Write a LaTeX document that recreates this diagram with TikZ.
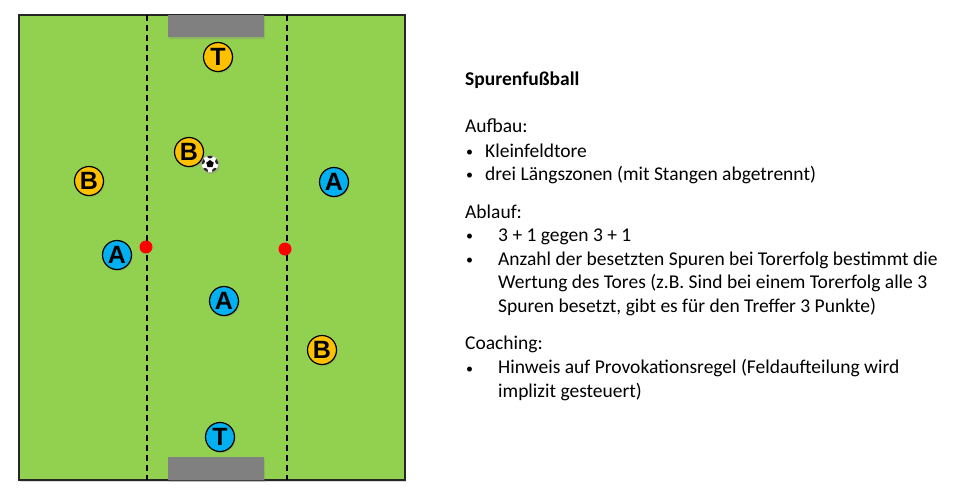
\documentclass[tikz,border=0pt]{standalone}
\usepackage{fontspec}
\setmainfont{Carlito}
\newfontfamily\letterfont{Liberation Sans}
\usetikzlibrary{shadows,shapes.geometric}
\definecolor{pitch}{HTML}{92D050}
\definecolor{teamblue}{HTML}{00B0F0}
\definecolor{teamyellow}{HTML}{FFC000}
\definecolor{goalgray}{HTML}{808080}
\definecolor{border}{HTML}{262626}
\tikzset{
    softshadow/.style={drop shadow={shadow xshift=1pt,shadow yshift=-1.5pt,opacity=0.3}},
    player/.style={circle,draw=black,line width=1.2pt,minimum size=29pt,inner sep=0pt,
        font=\letterfont\fontsize{25}{25}\selectfont\bfseries,softshadow},
    teama/.style={player,fill=teamblue},
    teamb/.style={player,fill=teamyellow},
    pole/.style={circle,fill=red,minimum size=13pt,inner sep=0pt},
    goal/.style={fill=goalgray,softshadow},
    zone/.style={draw=black,line width=1.3pt,dash pattern=on 6pt off 4pt},
    ballstyle/.style={circle,draw=gray!70,fill=white,minimum size=17pt,inner sep=0pt,softshadow,
        path picture={
            \foreach \a in {18,90,162,234,306}
                \fill[black!85] (path picture bounding box.center) ++(\a:8.5pt) circle (3pt);
        }},
    patch/.style={regular polygon,regular polygon sides=5,fill=black,minimum size=8pt,inner sep=0pt},
    txt/.style={anchor=base west,inner sep=0pt,align=left,
        font=\fontsize{19.5}{23.5}\selectfont},
    heading/.style={txt,font=\fontsize{19.5}{23.5}\selectfont\bfseries},
    bullet/.style={txt,font=\fontsize{14}{14}\selectfont},
}

\begin{document}
\begin{tikzpicture}[x=1pt,y=-1pt]
\useasboundingbox (0,0) rectangle (958,499);
% field
\filldraw[fill=pitch,draw=border,line width=1.5pt,softshadow] (19,15) rectangle (405,480);
\coordinate (z1top) at (147,15);
\coordinate (z1bot) at (147,480);
\coordinate (z2top) at (287,15);
\coordinate (z2bot) at (287,480);
\draw[zone] (z1top) -- (z1bot);
\draw[zone] (z2top) -- (z2bot);
\fill[goal] (168,15) rectangle (264,37);
\fill[goal] (168,457) rectangle (264,480);
% poles
\node[pole] (pole1) at (146,247) {};
\node[pole] (pole2) at (285,249) {};
% players
\node[teamb] (tb) at (218,57) {T};
\node[teamb] (b1) at (189,152) {B};
\node[teamb] (b2) at (89,181) {B};
\node[teamb] (b3) at (322,350) {B};
\node[teama] (a1) at (334,182) {A};
\node[teama] (a2) at (117,255) {A};
\node[teama] (a3) at (224,301) {A};
\node[teama] (ta) at (220,437) {T};
% ball
\node[ballstyle] (ball) at (210,164) {};
\node[patch] (ballc) at (ball) {};
% text (multi-line nodes sit on their last baseline)
\node[heading] (title) at (465,85) {Spurenfußball};
\node[txt] (aufbau) at (465,132) {Aufbau:};
\node[bullet] (bu1) at (466,156) {•};
\node[txt] (au1) at (485,157) {Kleinfeldtore};
\node[bullet] (bu2) at (466,179) {•};
\node[txt] (au2) at (485,180) {drei Längszonen (mit Stangen abgetrennt)};
\node[txt] (ablauf) at (465,218) {Ablauf:};
\node[bullet] (bu3) at (466,240) {•};
\node[txt] (ab1) at (498,241) {3 + 1 gegen 3 + 1};
\node[bullet] (bu4) at (466,264) {•};
\node[txt] (ab2) at (498,312) {Anzahl der besetzten Spuren bei Torerfolg bestimmt die\\Wertung des Tores (z.B. Sind bei einem Torerfolg alle 3\\Spuren besetzt, gibt es für den Treffer 3 Punkte)};
\node[txt] (coaching) at (465,349) {Coaching:};
\node[bullet] (bu5) at (466,373) {•};
\node[txt] (co1) at (498,397) {Hinweis auf Provokationsregel (Feldaufteilung wird\\implizit gesteuert)};
\end{tikzpicture}
\end{document}
